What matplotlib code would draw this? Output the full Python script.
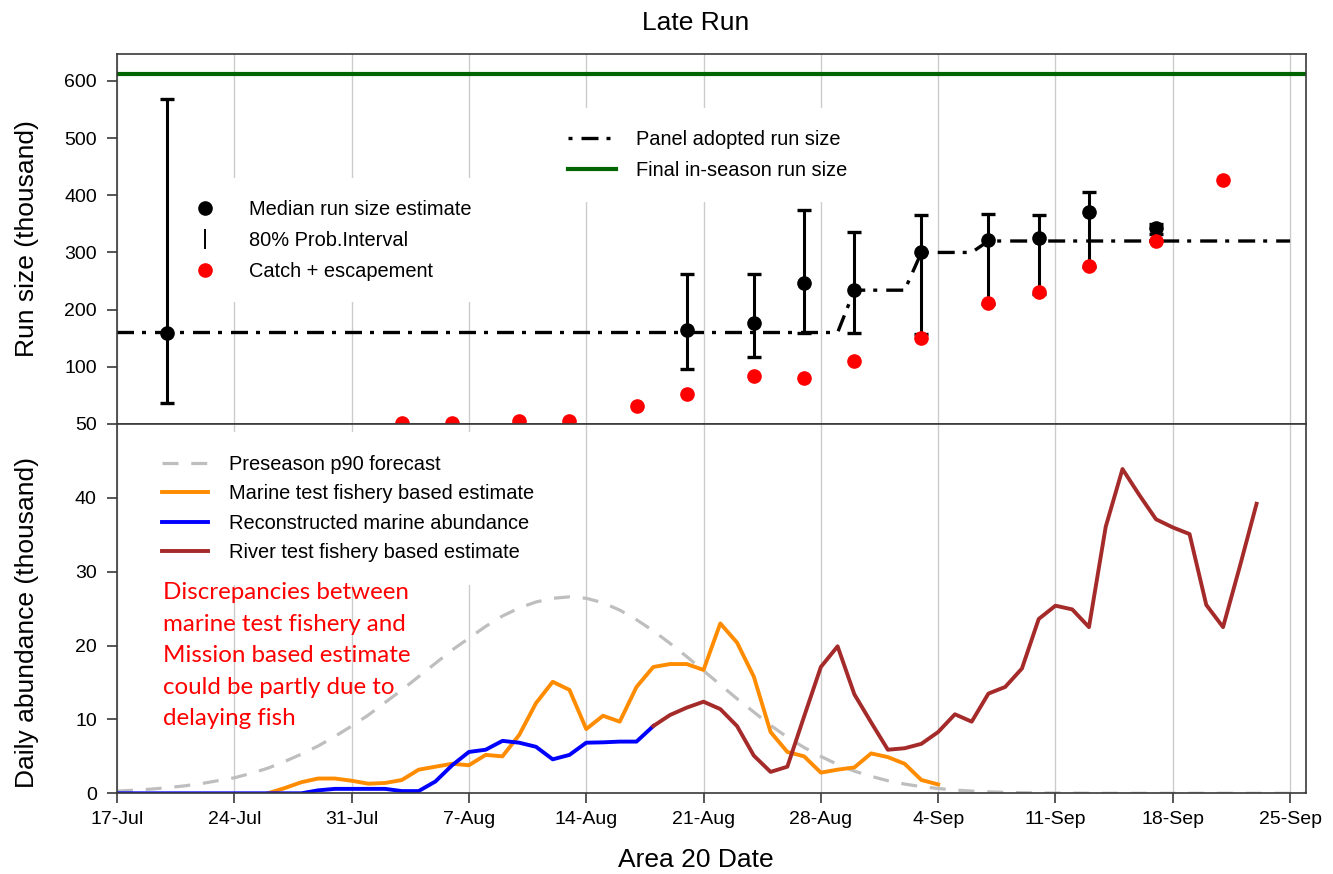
import numpy as np
import pandas as pd
import matplotlib
matplotlib.use('Agg')
import matplotlib.pyplot as plt
from matplotlib.lines import Line2D

plt.rcParams['font.family'] = ['Liberation Sans', 'DejaVu Sans']

# x axis: days counted from 17-Jul
START = pd.Timestamp('2019-07-17')
tick_labels = ['17-Jul', '24-Jul', '31-Jul', '7-Aug', '14-Aug', '21-Aug', '28-Aug',
               '4-Sep', '11-Sep', '18-Sep', '25-Sep']

# top panel: run size (thousand)
est_dates = ['07-20', '08-20', '08-24', '08-27', '08-30', '09-03', '09-07', '09-10', '09-13', '09-17']
est_median = [160, 165, 177, 247, 235, 301, 322, 326, 370, 342]
est_low = [37, 97, 117, 160, 160, 158, 209, 228, 275, 333]
est_high = [568, 262, 262, 374, 336, 365, 368, 365, 406, 349]

catch_dates = ['08-03', '08-06', '08-10', '08-13', '08-17', '08-20', '08-24', '08-27', '08-30',
               '09-03', '09-07', '09-10', '09-13', '09-17', '09-21']
catch_esc = [1, 1, 6, 6, 32, 52, 84, 81, 110, 151, 211, 230, 277, 320, 427]

panel_dates = ['07-17', '08-29', '08-30', '09-02', '09-03', '09-06', '09-07', '09-25']
panel_size = [160, 160, 234, 234, 300, 300, 320, 320]

final_run = 612

# bottom panel: daily abundance (thousand), one value per day from the start date
forecast_start = '07-17'
forecast_p90 = [0.30, 0.41, 0.56, 0.76, 1.0, 1.3, 1.7, 2.1, 2.7, 3.4, 4.3, 5.3, 6.4, 7.7, 9.1,
                10.6, 12.3, 14.0, 15.8, 17.6, 19.4, 21.0, 22.6, 24.0, 25.1, 25.9, 26.4, 26.6,
                26.4, 25.8, 24.8, 23.5, 22.0, 20.3, 18.5, 16.6, 14.7, 12.8, 11.0, 9.2, 7.6, 6.2,
                5.0, 3.9, 3.0, 2.3, 1.7, 1.25, 0.9, 0.65, 0.45, 0.3, 0.2, 0.13, 0.08, 0.05,
                0.03, 0.02, 0.01, 0, 0, 0, 0, 0, 0, 0, 0, 0, 0, 0, 0, 0]

marine_start = '07-26'
marine_est = [0.0, 0.7, 1.5, 2.0, 2.0, 1.7, 1.3, 1.4, 1.8, 3.2, 3.6, 4.0, 3.8, 5.2, 5.0, 7.9,
              12.2, 15.1, 14.0, 8.7, 10.5, 9.7, 14.4, 17.1, 17.5, 17.5, 16.7, 23.0, 20.4, 15.8,
              8.3, 5.6, 5.0, 2.8, 3.2, 3.5, 5.4, 4.9, 4.0, 1.8, 1.2]

recon_start = '07-17'
recon_marine = [0, 0, 0, 0, 0, 0, 0, 0, 0, 0, 0, 0, 0.4, 0.6, 0.6, 0.6, 0.6, 0.3, 0.3, 1.6,
                3.8, 5.6, 5.9, 7.1, 6.85, 6.3, 4.6, 5.2, 6.85, 6.9, 7.0, 7.0, 9.1]

river_start = '08-18'
river_est = [9.1, 10.6, 11.6, 12.4, 11.4, 9.1, 5.1, 2.9, 3.6, 10.4, 17.1, 19.9, 13.4, 9.6, 5.9,
             6.1, 6.7, 8.3, 10.7, 9.7, 13.5, 14.4, 16.9, 23.6, 25.4, 24.9, 22.5, 36.1, 43.9,
             40.4, 37.1, 36.0, 35.1, 25.5, 22.5, 30.7, 39.2]

note_lines = ['Discrepancies between', 'marine test fishery and', 'Mission based estimate',
              'could be partly due to', 'delaying fish']


def to_day(md):
    return (pd.Timestamp('2019-' + md) - START).days


def daily(start, values):
    d0 = to_day(start)
    return np.arange(d0, d0 + len(values))


W, H = 1333, 874
fig = plt.figure(figsize=(W / 100, H / 100), dpi=100)


def fx(px):
    return px / W


def fy(py):
    return 1 - py / H


ax1 = fig.add_axes([fx(117), fy(424), fx(1306) - fx(117), fy(54) - fy(424)])
ax2 = fig.add_axes([fx(117), fy(793.3), fx(1306) - fx(117), fy(424) - fy(793.3)])

week_ticks = np.arange(0, 71, 7)
frame_col = '#3a3a3a'
for ax in (ax1, ax2):
    ax.set_xlim(0, 70.95)
    ax.set_xticks(week_ticks)
    ax.grid(axis='x', color='#CCCCCC', lw=1.0)
    ax.set_axisbelow(True)
    for s in ax.spines.values():
        s.set_color(frame_col)
        s.set_linewidth(1.2)
    ax.tick_params(direction='out', length=7.5, width=1.2, color=frame_col,
                   labelsize=14, pad=7)

# ---- top panel
ax1.set_ylim(0, 647)
ax1.set_yticks([100, 200, 300, 400, 500, 600])
ax1.tick_params(axis='x', bottom=False, labelbottom=False)

dashdot = (5.1, 2.4, 1.2, 2.7)
ax1.axhline(final_run, color='#006400', lw=3)
ax1.plot([to_day(d) for d in panel_dates], panel_size, color='black', lw=2.4,
         ls=(0, dashdot))
med = np.array(est_median)
ax1.errorbar([to_day(d) for d in est_dates], med,
             yerr=[med - np.array(est_low), np.array(est_high) - med],
             fmt='o', color='black', ms=9.5, elinewidth=2.2, capsize=5.3, capthick=2.4,
             zorder=4)
ax1.plot([to_day(d) for d in catch_dates], catch_esc, 'o', color='red', ms=9.5, zorder=5)

h1 = [Line2D([], [], ls='none', marker='o', color='black', ms=9.5),
      Line2D([], [], ls='none', marker='|', color='black', ms=14, mew=1.4),
      Line2D([], [], ls='none', marker='o', color='red', ms=9.5)]
leg1 = ax1.legend(h1, ['Median run size estimate', '80% Prob.Interval', 'Catch + escapement'],
                  loc='upper left', bbox_to_anchor=(0.0446, 0.6649), borderaxespad=0,
                  fontsize=14.4, frameon=True, fancybox=False, edgecolor='none',
                  facecolor='white', framealpha=1, borderpad=1.08, handlelength=1.35,
                  handletextpad=1.53, labelspacing=0.6)
ax1.add_artist(leg1)

h2 = [Line2D([], [], color='black', lw=2.4, ls=(7.5, dashdot)),
      Line2D([], [], color='#006400', lw=3)]
ax1.legend(h2, ['Panel adopted run size', 'Final in-season run size'],
           loc='upper left', bbox_to_anchor=(0.3608, 0.854), borderaxespad=0,
           fontsize=14.4, frameon=True, fancybox=False, edgecolor='none',
           facecolor='white', framealpha=1, borderpad=1.09, handlelength=2.4,
           handletextpad=1.0, labelspacing=0.6)

# ---- bottom panel
ax2.set_ylim(0, 50)
ax2.set_yticks([0, 10, 20, 30, 40, 50])
ax2.set_xticklabels(tick_labels)
ax2.tick_params(axis='x', pad=5.5)

lw_b = 2.8
ax2.plot(daily(forecast_start, forecast_p90), forecast_p90, color='#BEBEBE', lw=2.3,
         ls=(0, (5, 4)))
ax2.plot(daily(marine_start, marine_est), marine_est, color='#FF8C00', lw=lw_b)
ax2.plot(daily(recon_start, recon_marine), recon_marine, color='#0000FF', lw=lw_b)
ax2.plot(daily(river_start, river_est), river_est, color='#A52A2A', lw=lw_b)

h3 = [Line2D([], [], color='#BEBEBE', lw=2.3, ls=(0, (5, 4))),
      Line2D([], [], color='#FF8C00', lw=lw_b),
      Line2D([], [], color='#0000FF', lw=lw_b),
      Line2D([], [], color='#A52A2A', lw=lw_b)]
ax2.legend(h3, ['Preseason p90 forecast', 'Marine test fishery based estimate',
                'Reconstructed marine abundance', 'River test fishery based estimate'],
           loc='upper left', bbox_to_anchor=(0.0189, 0.9783), borderaxespad=0,
           fontsize=14.4, frameon=True, fancybox=False, edgecolor='none',
           facecolor='white', framealpha=1, borderpad=1.14, handlelength=2.3,
           handletextpad=1.03, labelspacing=0.52)

for i, line in enumerate(note_lines):
    fig.text(fx(162.7), fy(599.3 + 31.5 * i), line, color='red', fontsize=17.4,
             family=['Lato', 'DejaVu Sans'], ha='left', va='baseline')

# ---- titles and axis labels
fig.text(fx(696), fy(30), 'Late Run', fontsize=19, ha='center', va='baseline')
fig.text(fx(696), fy(867.3), 'Area 20 Date', fontsize=19, ha='center', va='baseline')
fig.text(fx(27), fy(239), 'Run size (thousand)', fontsize=19, rotation=90,
         ha='center', va='center')
fig.text(fx(27), fy(622), 'Daily abundance (thousand)', fontsize=19, rotation=90,
         ha='center', va='center')

fig.savefig('out.png', dpi=100)
